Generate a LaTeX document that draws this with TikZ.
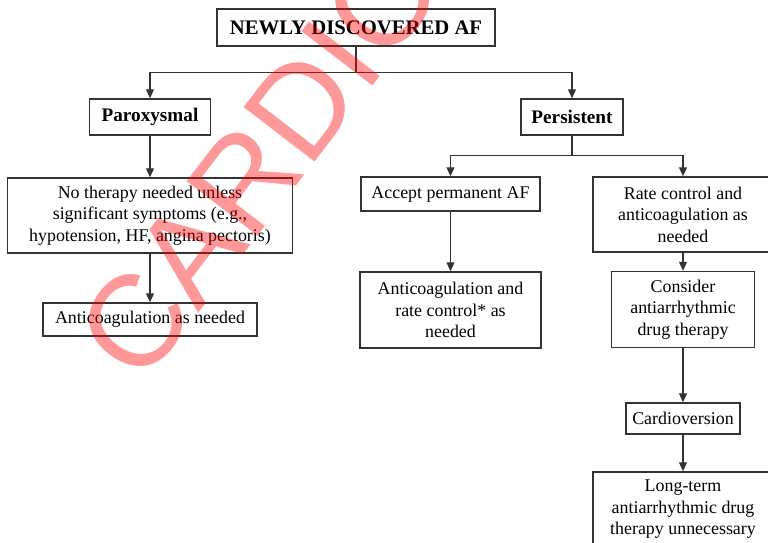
\documentclass[tikz,border=0pt]{standalone}
\usepackage{fontspec}
\setmainfont{Liberation Serif}
\newfontfamily\markfont{Liberation Sans}
\usetikzlibrary{positioning,arrows.meta}
\tikzstyle{block} = [draw=black!80, line width=1.5pt, rectangle, align=center, inner sep=2pt, font=\fontsize{17.9}{21.5}\selectfont]
\tikzstyle{head} = [block, font=\bfseries\fontsize{19.2}{23}\selectfont]
\tikzstyle{rootbox} = [block, font=\bfseries\fontsize{20.7}{25}\selectfont]
\tikzstyle{to} = [-{Triangle[length=9pt,width=8pt]}, line width=1.2pt, draw=black!80]
\tikzstyle{line} = [line width=1.2pt, draw=black!80]
\tikzstyle{wmark} = [text=red, opacity=0.4, font=\markfont\fontsize{130}{130}\selectfont, rotate=52.5]

\begin{document}
\begin{tikzpicture}
	\clip (-356pt,27.5pt) rectangle (412pt,-514.5pt);
	\node (af) [rootbox, minimum width=278pt, minimum height=37pt] {NEWLY DISCOVERED AF};
	\node (par) [head, below of=af, node distance=89.5pt, xshift=-206pt, minimum width=121pt, minimum height=36pt] {Paroxysmal};
	\node (per) [head, right of=par, node distance=422pt, minimum width=102pt, minimum height=36pt] {Persistent};
	\node (none) [block, below of=par, node distance=98.5pt, minimum width=285pt, minimum height=75pt] {No therapy needed unless\\ significant symptoms (e.g.,\\ hypotension, HF, angina pectoris)};
	\node (ac1) [block, below of=none, node distance=104pt, minimum width=214pt, minimum height=33pt] {Anticoagulation as needed};
	\node (perm) [block, below of=per, node distance=77pt, xshift=-121.5pt, minimum width=179pt, minimum height=34pt] {Accept permanent AF};
	\node (rate) [block, below of=per, node distance=97.5pt, xshift=111pt, minimum width=180pt, minimum height=75pt] {Rate control and\\ anticoagulation as\\ needed};
	\node (ac2) [block, below of=perm, node distance=116pt, minimum width=181pt, minimum height=76pt] {Anticoagulation and\\ rate control* as\\ needed};
	\node (aad) [block, below of=rate, node distance=95pt, minimum width=143pt, minimum height=76pt] {Consider\\ antiarrhythmic\\ drug therapy};
	\node (cv) [block, below of=aad, node distance=109pt, minimum width=114pt, minimum height=31pt] {Cardioversion};
	\node (lt) [block, below of=cv, node distance=91pt, minimum width=180pt, minimum height=75pt] {Long-term\\ antiarrhythmic drug\\ therapy unnecessary};
	\draw [line] (af.south) -- ++(0,-26pt) coordinate (s1);
	\draw [to] (s1) -| (par.north);
	\draw [to] (s1) -| (per.north);
	\draw [to] (par) -- (none);
	\draw [to] (none) -- (ac1);
	\draw [line] (per.south) -- ++(0,-20pt) coordinate (s2);
	\draw [to] (s2) -| (perm.north);
	\draw [to] (s2) -| (rate.north);
	\draw [to] (perm) -- (ac2);
	\draw [to] (rate) -- (aad);
	\draw [to] (aad) -- (cv);
	\draw [to] (cv) -- (lt);
	\node (mark) [wmark] at (-96pt,-132.5pt) {CARDIO};
\end{tikzpicture}
\end{document}
